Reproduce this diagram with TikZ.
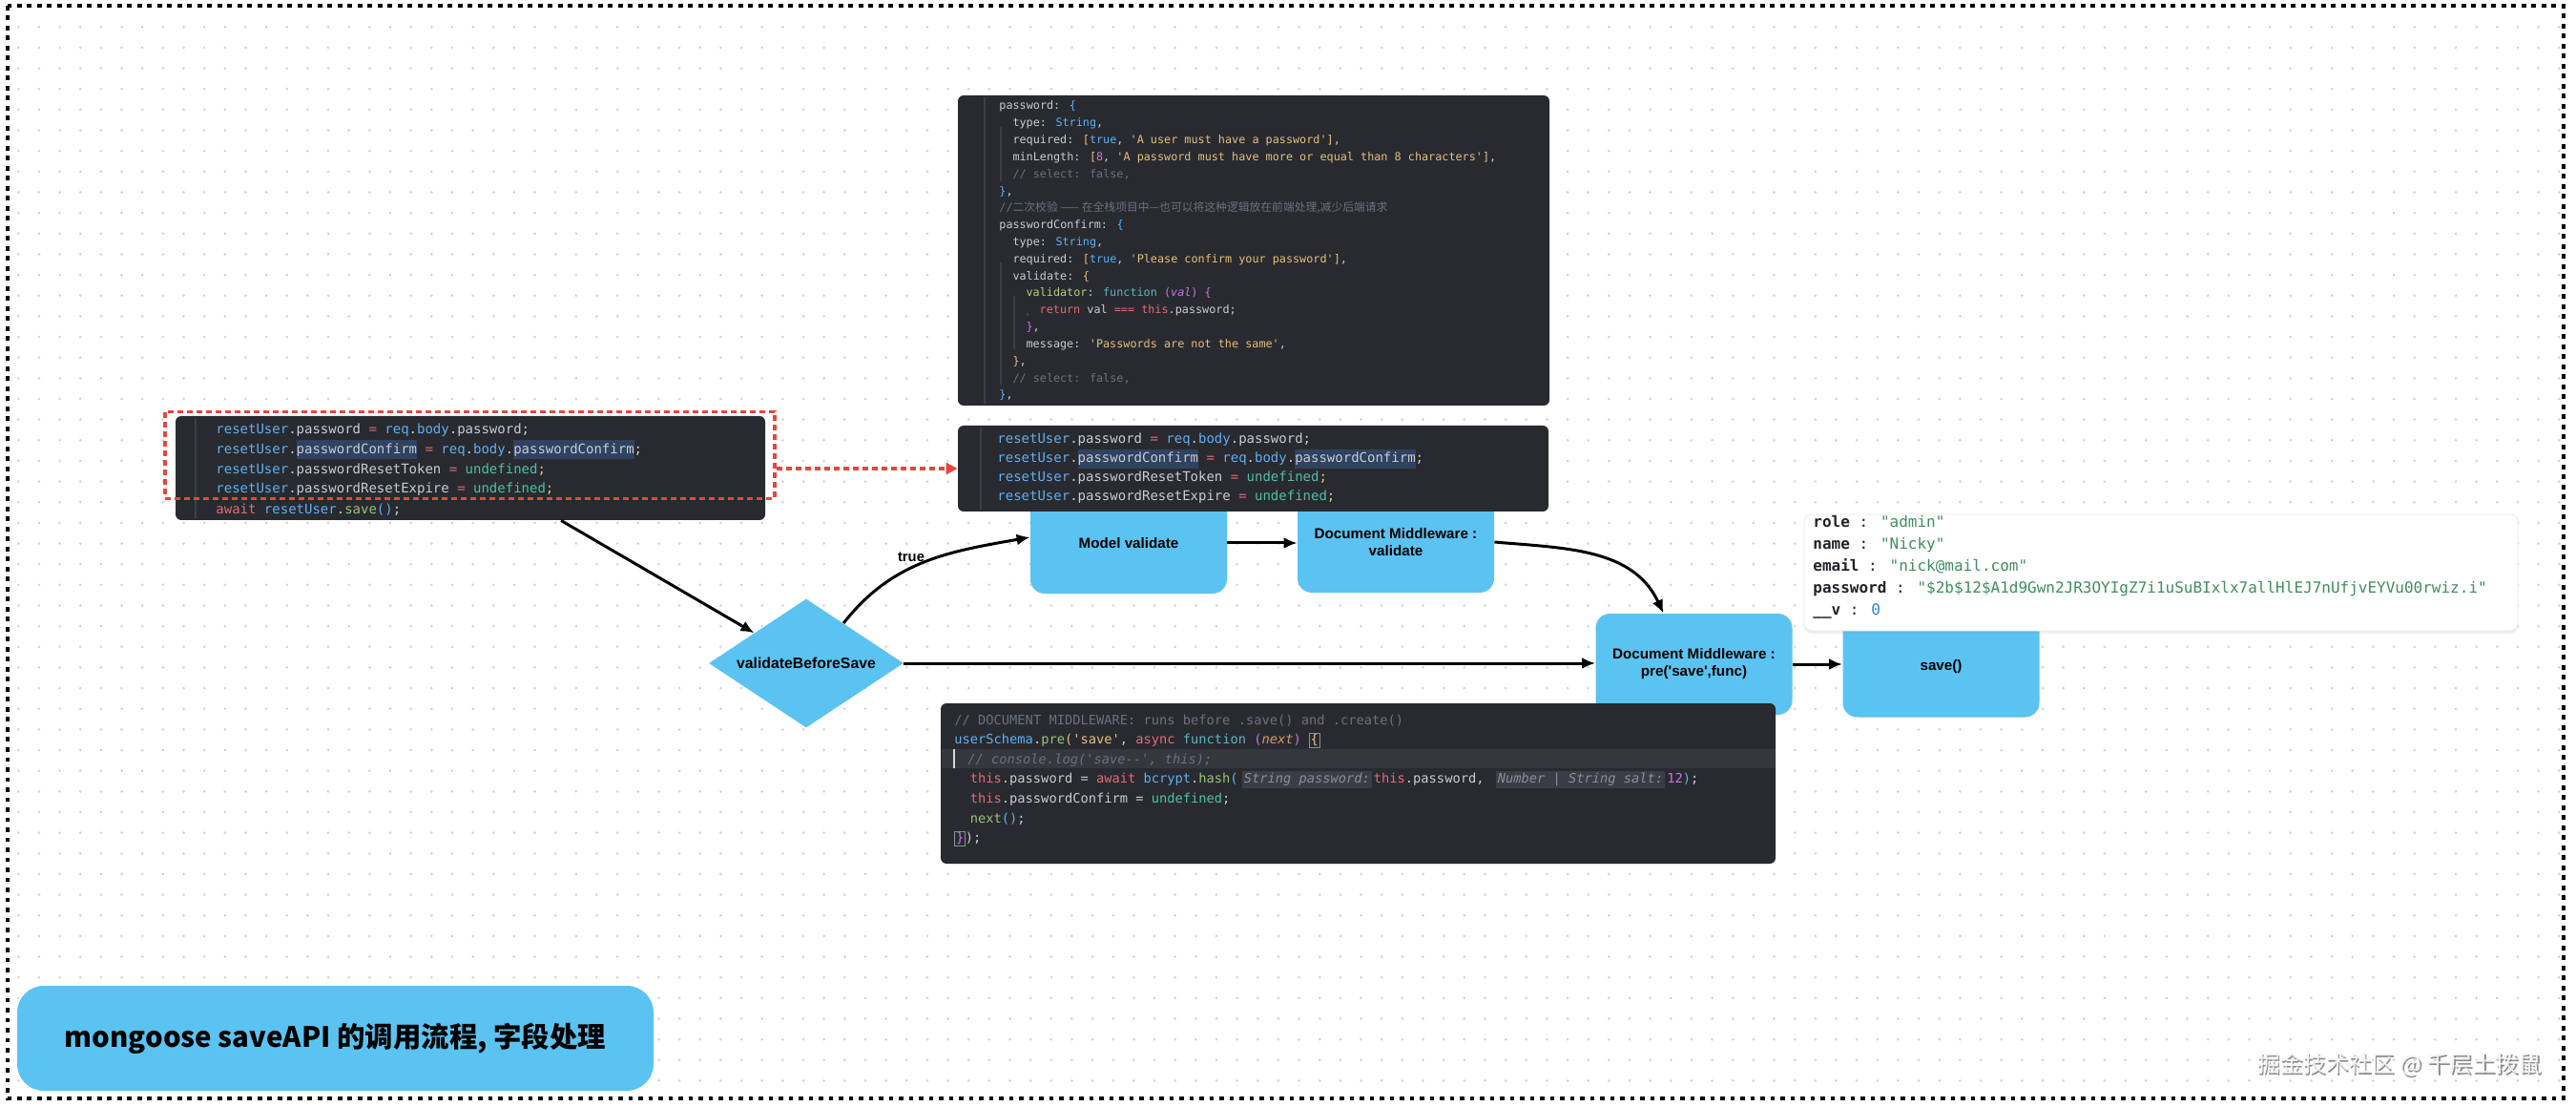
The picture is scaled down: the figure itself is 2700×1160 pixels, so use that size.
\documentclass[tikz,border=0pt]{standalone}
\usepackage{fontspec}
\usetikzlibrary{arrows.meta,shapes.geometric,shadows}
\newfontfamily\codefont{DejaVu Sans Mono}
\newfontfamily\nodefont{Liberation Sans}
\newfontfamily\cjk{Noto Sans CJK SC}
\definecolor{codebg}{HTML}{282A30}
\definecolor{cg}{HTML}{C8CCD4}
\definecolor{cb}{HTML}{61AFEF}
\definecolor{cy}{HTML}{E5C07B}
\definecolor{cp}{HTML}{C678DD}
\definecolor{cr}{HTML}{E06C75}
\definecolor{cn}{HTML}{98C379}
\definecolor{ct}{HTML}{56B6C2}
\definecolor{cc}{HTML}{6B717D}
\definecolor{co}{HTML}{D19A66}
\definecolor{cu}{HTML}{4EC1A8}
\definecolor{cv}{HTML}{B9CC7A}
\definecolor{hlbg}{HTML}{2F4260}
\definecolor{hintbg}{HTML}{3A3D45}
\definecolor{hintfg}{HTML}{8A8F98}
\definecolor{boxc}{HTML}{8A8F98}
\definecolor{gutter}{HTML}{3C3F47}
\definecolor{linehl}{HTML}{35373E}
\definecolor{cursorc}{HTML}{D8D8D8}
\definecolor{nodeblue}{HTML}{5BC3F1}
\definecolor{jk}{HTML}{1F2328}
\definecolor{jv}{HTML}{3E8E5E}
\definecolor{jn}{HTML}{2F7FE0}
\definecolor{jborder}{HTML}{E8E8E8}
\definecolor{dotc}{HTML}{D4D4D4}
\definecolor{redc}{HTML}{E5473B}
\definecolor{wmshade}{HTML}{8C8C8C}
\definecolor{wmfill}{HTML}{F4F4F4}
\newcommand\kc[2]{\textcolor{#1}{#2}}
\newcommand\hlx[1]{{\setlength{\fboxsep}{0pt}\colorbox{hlbg}{\strut #1}}}
\newcommand\hintx[1]{{\setlength{\fboxsep}{1pt}\colorbox{hintbg}{\textcolor{hintfg}{\itshape #1}}}}
\newcommand\bracebox[1]{{\setlength{\fboxsep}{0.4pt}\setlength{\fboxrule}{0.4pt}\fcolorbox{boxc}{codebg}{#1}}}
\newcommand\codeln[5]{\node[#1,anchor=base west] (#2) at (#3,#4) {#5};}
\tikzset{
  dotrow/.style={draw=dotc, line width=1.5pt, line cap=round, dash pattern=on 0pt off 10.825pt},
  codeline/.style={inner sep=0pt, text=cg},
  topc/.style={codeline, font=\codefont\fontsize{5.9}{8.9}\selectfont},
  midc/.style={codeline, font=\codefont\fontsize{7}{10}\selectfont},
  botc/.style={codeline, font=\codefont\fontsize{6.86}{10.3}\selectfont},
  jsonc/.style={codeline, text=jk, font=\codefont\fontsize{8}{11.5}\selectfont},
  codebox/.style={rectangle, fill=codebg, rounded corners=3pt, inner sep=0pt, draw=none},
  bluebox/.style={rectangle, fill=nodeblue, rounded corners=7.5pt, minimum width=103pt, minimum height=53pt, inner sep=2pt, align=center, font=\nodefont\bfseries\fontsize{7.6}{9}\selectfont},
  flow/.style={-{Latex[length=7pt,width=6pt]}, line width=1.5pt, black},
  gut/.style={draw=gutter, line width=0.6pt},
  wm/.style={inner sep=0pt, font=\cjk\fontsize{12}{14}\selectfont},
}
\begin{document}
\begin{tikzpicture}[x=0.5pt,y=-0.5pt]
\useasboundingbox (0,0) rectangle (2700,1160);
\fill[white] (0,0) rectangle (2700,1160);
% dot grid
\foreach \k in {0,...,51}{\draw[dotrow] (19.3,{28.3+21.65*\k}) -- (2684,{28.3+21.65*\k});}
% outer dashed frame
\draw[line width=2.3pt, dash pattern=on 2.4pt off 2.85pt] (8,6) rectangle (2687,1151);

% flow nodes (drawn before code blocks that overlap them)
\node[bluebox] (model) at (1183,569) {Model validate};
\node[bluebox] (dmv) at (1463,568) {Document Middleware :\\validate};
\node[bluebox] (save) at (2034.5,698.5) {save()};
\node[bluebox] (dmpre) at (1775.5,696) {Document Middleware :\\pre('save',func)};
\node[diamond, shape aspect=1.51, fill=nodeblue, minimum width=102pt, minimum height=67.5pt, inner sep=0pt, font=\nodefont\bfseries\fontsize{7.9}{9}\selectfont] (vbs) at (845,695) {validateBeforeSave};

% code boxes
\node[codebox, minimum width=310pt, minimum height=162.5pt] (topcode) at (1314,262.5) {};
\node[codebox, minimum width=309pt, minimum height=54.5pt] (leftcode) at (493,490.5) {};
\node[codebox, minimum width=309.5pt, minimum height=45pt] (midcode) at (1313.5,491) {};
\node[codebox, minimum width=437.5pt, minimum height=84pt] (botcode) at (1423.5,821) {};
\node[rectangle, fill=white, draw=jborder, rounded corners=4pt, inner sep=0pt, minimum width=374pt, minimum height=61pt, drop shadow={opacity=0.12, shadow xshift=0pt, shadow yshift=-1.5pt}] (json) at (2265,600) {};

% gutters and guides
\draw[gut] (1032,102) -- (1032,423);
\draw[gut] (1049,133) -- (1049,190);
\draw[gut] (1049,275) -- (1049,403);
\draw[gut] (1063,310) -- (1063,366);
\draw[gut] (1077,328) -- (1077,331);
\draw[gut] (205,438) -- (205,543);
\draw[gut] (1028,448) -- (1028,534);
\fill[linehl] (987,785) rectangle (1861,805);
\draw[draw=cursorc, line width=0.8pt] (1000,785) -- (1000,805);

% top code block text
\codeln{topc}{t1}{1047}{115}{password: \kc{cb}{\{}}
\codeln{topc}{t2}{1061.1}{132.8}{type: \kc{cb}{String},}
\codeln{topc}{t3}{1061.1}{150.6}{required: \kc{cy}{[}\kc{cb}{true}, \kc{cy}{'A user must have a password']},}
\codeln{topc}{t4}{1061.1}{168.5}{minLength: \kc{cy}{[}\kc{cp}{8}, \kc{cy}{'A password must have more or equal than 8 characters']},}
\codeln{topc}{t5}{1061.1}{186.3}{\kc{cc}{// select: false,}}
\codeln{topc}{t6}{1047}{204.1}{\kc{cb}{\}},}
\codeln{topc}{t7}{1047}{221.9}{\kc{cc}{//\cjk 二次校验 —— 在全栈项目中—也可以将这种逻辑放在前端处理,减少后端请求}}
\codeln{topc}{t8}{1047}{239.7}{passwordConfirm: \kc{cb}{\{}}
\codeln{topc}{t9}{1061.1}{257.6}{type: \kc{cb}{String},}
\codeln{topc}{t10}{1061.1}{275.4}{required: \kc{cy}{[}\kc{cb}{true}, \kc{cy}{'Please confirm your password']},}
\codeln{topc}{t11}{1061.1}{293.2}{validate: \kc{cy}{\{}}
\codeln{topc}{t12}{1075.2}{311}{\kc{cv}{validator}: \kc{ct}{function} \kc{cp}{(\itshape val\upshape) \{}}
\codeln{topc}{t13}{1089.3}{328.8}{\kc{cr}{return} val \kc{cr}{===} \kc{cr}{this}.password;}
\codeln{topc}{t14}{1075.2}{346.7}{\kc{cp}{\}},}
\codeln{topc}{t15}{1075.2}{364.5}{message: \kc{cy}{'Passwords are not the same'},}
\codeln{topc}{t16}{1061.1}{382.3}{\kc{cy}{\}},}
\codeln{topc}{t17}{1061.1}{400.1}{\kc{cc}{// select: false,}}
\codeln{topc}{t18}{1047}{417.9}{\kc{cb}{\}},}

% left code block text
\codeln{midc}{l1}{226}{454.5}{\kc{cb}{resetUser}.password \kc{cr}{=} \kc{cb}{req}.\kc{cb}{body}.password;}
\codeln{midc}{l2}{226}{475.4}{\kc{cb}{resetUser}.\hlx{passwordConfirm} \kc{cr}{=} \kc{cb}{req}.\kc{cb}{body}.\hlx{passwordConfirm};}
\codeln{midc}{l3}{226}{496.3}{\kc{cb}{resetUser}.passwordResetToken \kc{cr}{=} \kc{cu}{undefined}\kc{cy}{;}}
\codeln{midc}{l4}{226}{516.5}{\kc{cb}{resetUser}.passwordResetExpire \kc{cr}{=} \kc{cu}{undefined}\kc{cy}{;}}
\codeln{midc}{l5}{226}{538.5}{\kc{cr}{await} \kc{cb}{resetUser}.\kc{cn}{save}\kc{cb}{()};}

% middle code block text
\codeln{midc}{m1}{1045}{465}{\kc{cb}{resetUser}.password \kc{cr}{=} \kc{cb}{req}.\kc{cb}{body}.password;}
\codeln{midc}{m2}{1045}{485}{\kc{cb}{resetUser}.\hlx{passwordConfirm} \kc{cr}{=} \kc{cb}{req}.\kc{cb}{body}.\hlx{passwordConfirm};}
\codeln{midc}{m3}{1045}{505}{\kc{cb}{resetUser}.passwordResetToken \kc{cr}{=} \kc{cu}{undefined}\kc{cy}{;}}
\codeln{midc}{m4}{1045}{525}{\kc{cb}{resetUser}.passwordResetExpire \kc{cr}{=} \kc{cu}{undefined}\kc{cy}{;}}

% bottom code block text
\codeln{botc}{b1}{1000}{759}{\kc{cc}{// DOCUMENT MIDDLEWARE: runs before .save() and .create()}}
\codeln{botc}{b2}{1000}{779.6}{\kc{cb}{userSchema}.\kc{cn}{pre}\kc{cy}{(}\kc{cy}{'save'}, \kc{cr}{async} \kc{ct}{function} \kc{cp}{(}\kc{co}{\itshape next}\kc{cp}{)} \bracebox{\kc{cy}{\{}}}
\codeln{botc}{b3}{1014}{800.2}{\kc{cc}{\itshape // console.log('save--', this);}}
\codeln{botc}{b4}{1016.5}{820.8}{\kc{cr}{this}.password = \kc{cr}{await} \kc{cb}{bcrypt}.\kc{cn}{hash}\kc{cb}{(}\hspace{2pt}\hintx{String password:}\hspace{1pt}\kc{cr}{this}.password, \hspace{2pt}\hintx{Number | String salt:}\hspace{1pt}\kc{cp}{12}\kc{cb}{)};}
\codeln{botc}{b5}{1016.5}{841.4}{\kc{cr}{this}.passwordConfirm = \kc{cu}{undefined};}
\codeln{botc}{b6}{1016.5}{862}{\kc{cn}{next}\kc{cb}{()};}
\codeln{botc}{b7}{1000}{882.6}{\bracebox{\kc{cp}{\}}});}

% json text
\codeln{jsonc}{j1}{1900}{552.5}{\textbf{role} : \kc{jv}{"admin"}}
\codeln{jsonc}{j2}{1900}{575.5}{\textbf{name} : \kc{jv}{"Nicky"}}
\codeln{jsonc}{j3}{1900}{598.5}{\textbf{email} : \kc{jv}{"nick@mail.com"}}
\codeln{jsonc}{j4}{1900}{621.5}{\textbf{password} : \kc{jv}{"\$2b\$12\$A1d9Gwn2JR3OYIgZ7i1uSuBIxlx7allHlEJ7nUfjvEYVu00rwiz.i"}}
\codeln{jsonc}{j5}{1900}{644.5}{\textbf{\_\_v} : \kc{jn}{0}}

% red dashed highlight and arrow
\node[rectangle, draw=redc, line width=1.6pt, dash pattern=on 3pt off 2pt, inner sep=0pt, minimum width=319.5pt, minimum height=45.5pt] (redbox) at (492.5,477) {};
\draw[draw=redc, line width=1.6pt, dash pattern=on 3pt off 2pt, -{Triangle[length=6pt,width=6pt]}] (redbox.east |- midcode.west) -- (midcode.west);

% flow connectors
\draw[flow] ([xshift=47.5pt]leftcode.south) -- (vbs);
\draw[flow] (vbs.47) to[out=52, in=190] ([yshift=3pt]model.west);
\node[inner sep=0pt, font=\nodefont\bfseries\fontsize{7.4}{9}\selectfont] (truelbl) at (955,584) {true};
\draw[flow] (model.east) -- (model.east -| dmv.west);
\draw[flow] (dmv.east) to[out=-5, in=115] ([xshift=-16pt]dmpre.north);
\draw[flow] (vbs.east) -- (vbs.east -| dmpre.west);
\draw[flow] (dmpre.east) -- (dmpre.east -| save.west);

% title
\node[rectangle, fill=nodeblue, rounded corners=14pt, minimum width=333.5pt, minimum height=55pt, inner sep=0pt, font=\cjk\bfseries\fontsize{14.7}{17}\selectfont] (title) at (351.5,1088) {mongoose saveAPI 的调用流程, 字段处理};

% watermark
\node[wm, text=wmshade] (wmshadow) at (2516.5,1117) {掘金技术社区 @ 千层土拨鼠};
\node[wm, text=wmfill] (wmtext) at (2515,1115.5) {掘金技术社区 @ 千层土拨鼠};
\end{tikzpicture}
\end{document}
